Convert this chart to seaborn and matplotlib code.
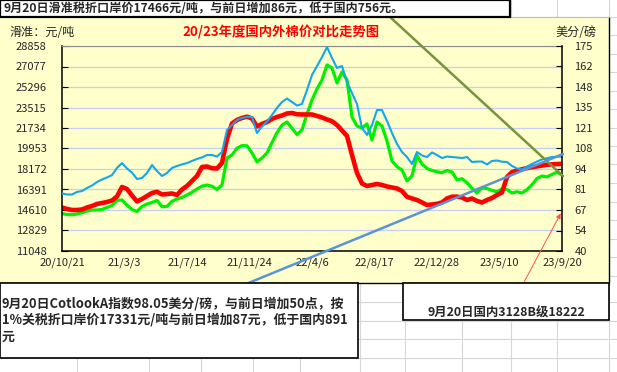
import matplotlib
matplotlib.use("Agg")
import matplotlib.pyplot as plt
from matplotlib.patches import Rectangle, FancyArrowPatch
from matplotlib.lines import Line2D
import numpy as np
import pandas as pd
import seaborn as sns

START = "2020-10-21"
END = "2023-09-20"

tick_dates = ["2020-10-21", "2021-03-03", "2021-07-14", "2021-11-24", "2022-04-06",
              "2022-08-17", "2022-12-28", "2023-05-10", "2023-09-20"]
tick_labels = ["20/10/21", "21/3/3", "21/7/14", "21/11/24", "22/4/6",
               "22/8/17", "22/12/28", "23/5/10", "23/9/20"]
left_ticks = [11048, 12829, 14610, 16391, 18172, 19953, 21734, 23515, 25296, 27077, 28858]
right_labels = ["40", "54", "67", "81", "94", "108", "121", "135", "148", "162", "175"]

# Cotlook A index, US cents/lb (right axis)
blue_cotlook = [
    77.9, 77.2, 77.2, 78.9, 79.5, 81.5, 83.1, 85.4, 87.1, 88.4,
    90.0, 94.7, 97.9, 94.3, 91.7, 87.4, 88.1, 91.4, 96.6, 92.7,
    89.4, 91.4, 94.7, 96.0, 97.0, 97.9, 99.3, 100.6, 101.6, 103.2,
    103.2, 102.2, 105.2, 119.7, 123.0, 126.3, 127.6, 128.4, 128.2, 117.7,
    122.0, 125.3, 129.6, 134.2, 138.1, 140.4, 138.1, 135.8, 136.8, 146.0,
    155.9, 161.8, 167.7, 174.3, 167.1, 160.5, 161.8, 151.3, 144.0, 136.8,
    121.0, 116.4, 123.0, 132.8, 132.8, 125.6, 117.7, 110.5, 105.2, 101.9,
    97.3, 105.2, 102.9, 101.9, 104.9, 103.2, 101.2, 102.2, 101.9, 101.6,
    101.2, 101.9, 98.6, 98.9, 98.9, 97.0, 99.3, 99.6, 98.8, 98.6,
    96.0, 94.3, 93.7, 95.6, 97.3, 98.9, 100.3, 101.1, 101.9, 102.1, 102.1,
]

# domestic 3128B, yuan/ton (left axis)
red_domestic = [
    14828, 14698, 14611, 14611, 14654, 14828, 14959, 15132, 15219, 15306,
    15436, 15784, 16610, 16436, 15871, 15350, 15567, 15828, 16088, 16192,
    15958, 16001, 16045, 15914, 16392, 16697, 17131, 17566, 18348, 18391,
    18235, 18217, 18695, 20781, 22128, 22432, 22606, 22719, 22562, 21867,
    22084, 22258, 22519, 22693, 22823, 22997, 23040, 22927, 22910, 22910,
    22910, 22780, 22649, 22475, 22319, 21997, 21519, 21042, 19390, 17826,
    16914, 16697, 16783, 16870, 16783, 16653, 16566, 16479, 16262, 15758,
    15610, 15480, 15263, 15045, 15089, 15150, 15263, 15610, 15767, 15767,
    15697, 15480, 15610, 15393, 15263, 15480, 15654, 15914, 16132, 17479,
    17900, 18030, 18150, 18250, 18330, 18400, 18470, 18540, 18580, 18600, 18620,
]

# sliding-tariff landed price, yuan/ton (left axis)
green_import = [
    14298, 14220, 14194, 14263, 14376, 14524, 14611, 14611, 14654, 14828,
    15002, 15436, 15480, 15028, 14654, 14481, 14915, 15132, 15263, 15436,
    14898, 14915, 15367, 15567, 15697, 15914, 16149, 16436, 16679, 16783,
    16670, 16392, 16783, 19130, 19390, 19981, 20207, 20190, 19564, 18782,
    19130, 19564, 20468, 21328, 21980, 22258, 21711, 21172, 21563, 22953,
    24170, 25126, 25908, 27211, 26951, 25647, 26603, 25908, 22693, 21911,
    21737, 22084, 20694, 22258, 21911, 20607, 18869, 18374, 18087, 17131,
    17566, 19347, 18608, 18217, 18043, 17930, 17852, 18043, 17913, 17218,
    17331, 16975, 16497, 16088, 16523, 16479, 16305, 16201, 16436, 16392,
    16088, 16192, 16088, 16384, 16800, 17350, 17560, 17480, 17700, 17900, 17650,
]

top_note = "9月20日滑准税折口岸价17466元/吨，与前日增加86元，低于国内756元。"
left_note = ["9月20日CotlookA指数98.05美分/磅，与前日增加50点，按",
             "1%关税折口岸价17331元/吨与前日增加87元，低于国内891",
             "元"]
right_note = "9月20日国内3128B级18222"


def series(values):
    dates = pd.date_range(START, END, periods=len(values))
    return pd.DataFrame({"date": dates, "value": values})


sns.set_style("white")
plt.rcParams["font.family"] = ["Noto Sans CJK SC", "DejaVu Sans"]

W, H = 617, 372
fig = plt.figure(figsize=(W / 100, H / 100), dpi=100)
fig.patch.set_facecolor("white")


def fx(x):
    return x / W


def fy(y):
    return 1 - y / H


# spreadsheet cell lines behind everything
for x in [77, 149, 201, 253, 300, 360, 405, 462, 511, 557, 609]:
    fig.add_artist(Line2D([fx(x)] * 2, [0, 1], color="#d6d6d6", lw=0.8, zorder=-3))
for y in [16.5, 35, 53.5, 72, 90.5, 109, 127.5, 146, 164.5, 183, 201.5, 220, 238.5, 257, 275.5,
          302, 321, 339, 358]:
    fig.add_artist(Line2D([0, 1], [fy(y)] * 2, color="#d6d6d6", lw=0.8, zorder=-3))

# chart area: yellow fill, dark right and bottom edges
fig.add_artist(Rectangle((0, fy(283)), fx(609), (283 - 17) / H, transform=fig.transFigure,
                         facecolor="#FFFFCC", edgecolor="none", zorder=-1))
fig.add_artist(Line2D([0, fx(609), fx(609)], [fy(283), fy(283), fy(17)], color="black",
                      lw=1, zorder=-1))
fig.add_artist(Line2D([fx(510), fx(609)], [fy(17), fy(17)], color="#bdbdbd", lw=0.8, zorder=-1))

ax = fig.add_axes([fx(62), fy(251), (562 - 62) / W, (251 - 46) / H])
ax.set_facecolor("#FFFFCC")
sns.lineplot(data=series(green_import), x="date", y="value", ax=ax, color="#00F000", lw=2.3)
sns.lineplot(data=series(red_domestic), x="date", y="value", ax=ax, color="#FF0000", lw=3.3)

ax.set_xlim(pd.Timestamp(START), pd.Timestamp(END))
ax.set_ylim(left_ticks[0], left_ticks[-1])
ax.set_yticks(left_ticks)
ax.set_xticks(pd.to_datetime(tick_dates))
ax.set_xticklabels(tick_labels)
ax.set_xlabel("")
ax.set_ylabel("")
ax.grid(axis="y", color="#c8cdf2", lw=0.9)
ax.set_axisbelow(True)
ax.tick_params(axis="both", direction="in", length=4, color="black", labelsize=8)
ax.tick_params(axis="y", pad=11)
ax.tick_params(axis="x", pad=5)
for side in ["left", "bottom"]:
    ax.spines[side].set_color("black")
    ax.spines[side].set_linewidth(1.1)
ax.spines["top"].set_color("#8a8a8a")
ax.spines["right"].set_visible(False)

ax2 = ax.twinx()
sns.lineplot(data=series(blue_cotlook), x="date", y="value", ax=ax2, color="#12A6EC", lw=1.5)
ax2.set_ylim(40, 175)
ax2.set_yticks(np.linspace(40, 175, len(right_labels)))
ax2.set_yticklabels(right_labels)
ax2.set_ylabel("")
ax2.tick_params(axis="y", direction="in", length=4, color="black", labelsize=8, pad=9)
for side in ["left", "top", "bottom"]:
    ax2.spines[side].set_visible(False)
ax2.spines["right"].set_color("black")
ax2.spines["right"].set_linewidth(1.1)

# axis captions and title
fig.text(fx(9), fy(32), "滑准：元/吨", fontsize=8.7, va="center", ha="left")
fig.text(fx(555), fy(32), "美分/磅", fontsize=8.7, va="center", ha="left")
fig.text(fx(281), fy(32), "20/23年度国内外棉价对比走势图", fontsize=9.6, color="#FF0000",
         fontweight="bold", va="center", ha="center")

# drawn shapes over the chart
fig.add_artist(Line2D([fx(390), fx(563)], [fy(17), fy(176)], color="#77933C", lw=1.8, zorder=5))
fig.add_artist(Line2D([fx(246), fx(563)], [fy(284), fy(154)], color="#5B93D8", lw=1.8, zorder=5))
fig.add_artist(FancyArrowPatch((fx(523), fy(284)), (fx(562), fy(211)), transform=fig.transFigure,
                               arrowstyle="-|>", mutation_scale=7, color="#FF5050", lw=0.7,
                               zorder=5))

# text boxes
fig.add_artist(Rectangle((0, fy(17)), fx(510), 17 / H, transform=fig.transFigure,
                         facecolor="white", edgecolor="black", lw=1.6, zorder=6))
fig.text(fx(3), fy(9), top_note, fontsize=8.7, fontweight="bold", va="center", ha="left", zorder=7)

fig.add_artist(Rectangle((0, fy(358)), fx(358), (358 - 283) / H, transform=fig.transFigure,
                         facecolor="white", edgecolor="black", lw=1.2, zorder=6))
for i, line in enumerate(left_note):
    fig.text(fx(2), fy(303 + 17 * i), line, fontsize=9.3, fontweight="bold", va="center",
             ha="left", zorder=7)

fig.add_artist(Rectangle((fx(403), fy(320)), (609 - 403) / W, (320 - 283) / H,
                         transform=fig.transFigure, facecolor="white", edgecolor="black",
                         lw=1.2, zorder=6))
fig.text(fx(506), fy(313), right_note, fontsize=8.9, fontweight="bold", va="center",
         ha="center", zorder=7)

fig.savefig("out.png", dpi=100, facecolor="white")
